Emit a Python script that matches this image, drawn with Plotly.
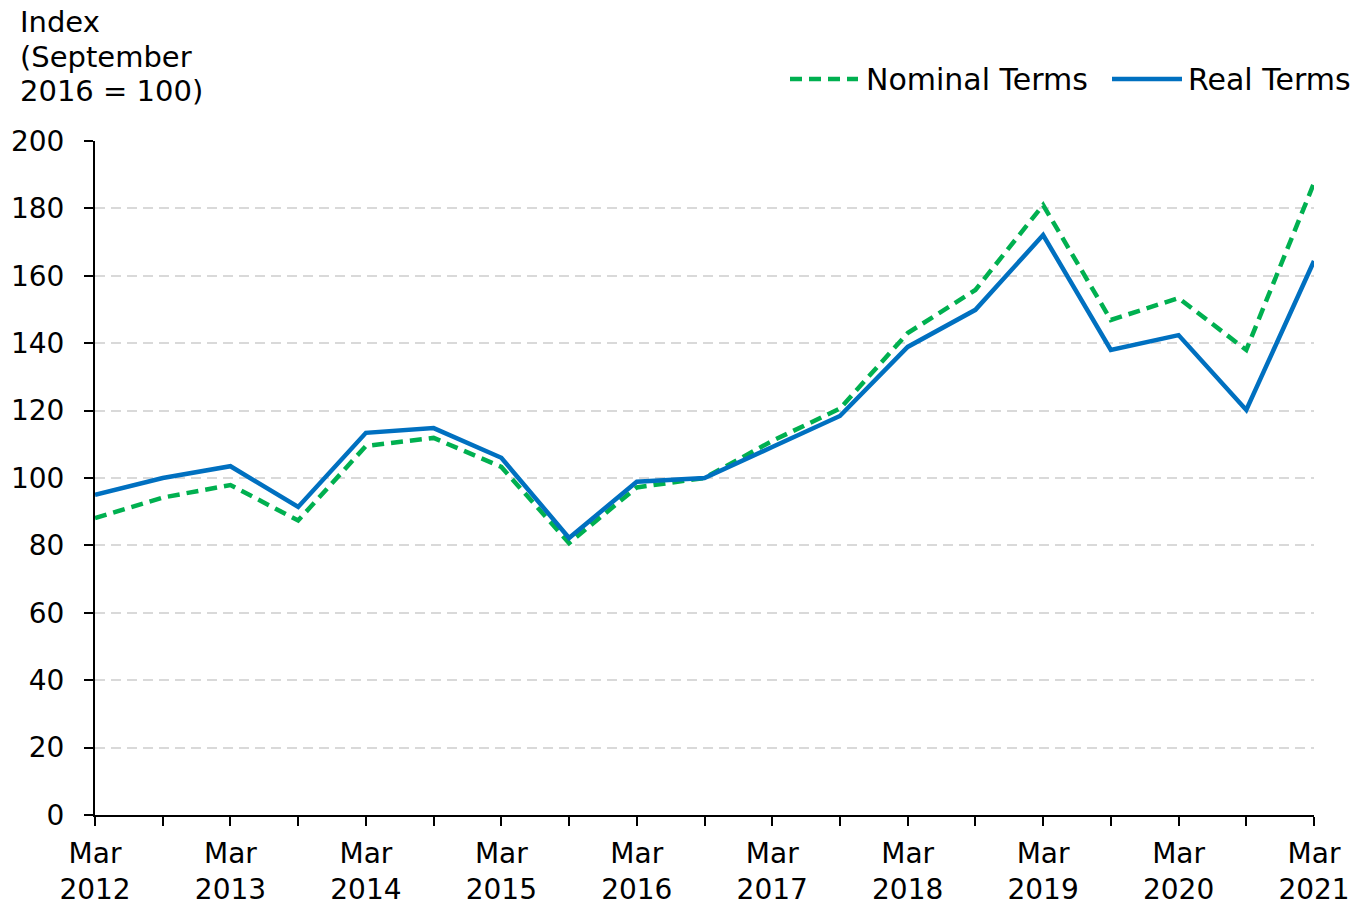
import plotly.graph_objects as go

periods = ["Mar 2012", "Sep 2012", "Mar 2013", "Sep 2013", "Mar 2014", "Sep 2014",
           "Mar 2015", "Sep 2015", "Mar 2016", "Sep 2016", "Mar 2017", "Sep 2017",
           "Mar 2018", "Sep 2018", "Mar 2019", "Sep 2019", "Mar 2020", "Sep 2020",
           "Mar 2021"]
nominal = [88.1, 94.2, 97.9, 87.4, 109.5, 111.9, 103.3, 80.7, 97.2, 100.0, 111.0, 120.6,
           143.0, 155.8, 181.0, 146.9, 153.4, 138.0, 187.5]
real = [95.0, 100.0, 103.5, 91.4, 113.4, 114.8, 106.0, 82.2, 98.9, 100.0, 109.2, 118.4,
        138.9, 149.9, 172.1, 138.0, 142.4, 120.2, 164.4]
tick_text = [p.replace(" ", "<br>") if p.startswith("Mar") else "" for p in periods]
y_ticks = list(range(0, 201, 20))
title_lines = ["Index", "(September", "2016 = 100)"]
series_names = ["Nominal Terms", "Real Terms"]

FONT = "DejaVu Sans"
GREEN = "#00B050"
BLUE = "#0070C0"
GREEN_DASH = "12px,7px"

fig = go.Figure()
fig.add_trace(go.Scatter(x=periods, y=nominal, name=series_names[0], mode="lines",
                         line=dict(color=GREEN, width=4.5, dash=GREEN_DASH)))
fig.add_trace(go.Scatter(x=periods, y=real, name=series_names[1], mode="lines",
                         line=dict(color=BLUE, width=4.5)))

# pixel helpers relative to plot area (window coords: x 95..1314, y 141..815)
def px_x(px):
    return (px - 95) / 1219.0

def px_y(py):
    return (815 - py) / 674.0

annotations = []
for i, line in enumerate(title_lines):
    annotations.append(dict(text=line, xref="paper", yref="paper", x=px_x(18),
                            y=px_y(22 + 34.5 * i), xanchor="left", yanchor="middle",
                            align="left", showarrow=False, font=dict(size=29)))
# manual legend
annotations.append(dict(text=series_names[0], xref="paper", yref="paper", x=px_x(864),
                        y=px_y(79), xanchor="left", yanchor="middle", showarrow=False,
                        font=dict(size=30)))
annotations.append(dict(text=series_names[1], xref="paper", yref="paper", x=px_x(1186),
                        y=px_y(79), xanchor="left", yanchor="middle", showarrow=False,
                        font=dict(size=30)))
shapes = [
    dict(type="line", xref="paper", yref="paper", x0=px_x(790), x1=px_x(858),
         y0=px_y(79), y1=px_y(79), line=dict(color=GREEN, width=4.5, dash=GREEN_DASH)),
    dict(type="line", xref="paper", yref="paper", x0=px_x(1112), x1=px_x(1182),
         y0=px_y(79), y1=px_y(79), line=dict(color=BLUE, width=4.5)),
]

fig.update_layout(
    width=1368, height=906,
    margin=dict(l=95, r=54, t=141, b=91, autoexpand=False),
    paper_bgcolor="white", plot_bgcolor="white",
    font=dict(family=FONT, size=28, color="black"),
    showlegend=False,
    xaxis=dict(type="category", range=[0, len(periods) - 1], tickmode="array",
               tickvals=periods, ticktext=tick_text, ticks="outside", ticklen=9,
               tickwidth=2, tickcolor="black", showline=True, linecolor="black",
               linewidth=2, showgrid=False, zeroline=False, tickangle=0,
               tickfont=dict(size=28), ticklabelstandoff=3),
    yaxis=dict(range=[0, 200], tickvals=y_ticks, ticks="outside", ticklen=9,
               tickwidth=2, tickcolor="black", showline=True, linecolor="black",
               linewidth=2, showgrid=True, gridcolor="#d9d9d9", gridwidth=2,
               griddash="10px,6px", zeroline=False, tickfont=dict(size=28),
               ticklabelstandoff=14),
    annotations=annotations,
    shapes=shapes,
)
fig.write_html("out.html", config={"displayModeBar": False},
               post_script="document.body.style.margin='0';document.body.style.overflow='hidden';")
